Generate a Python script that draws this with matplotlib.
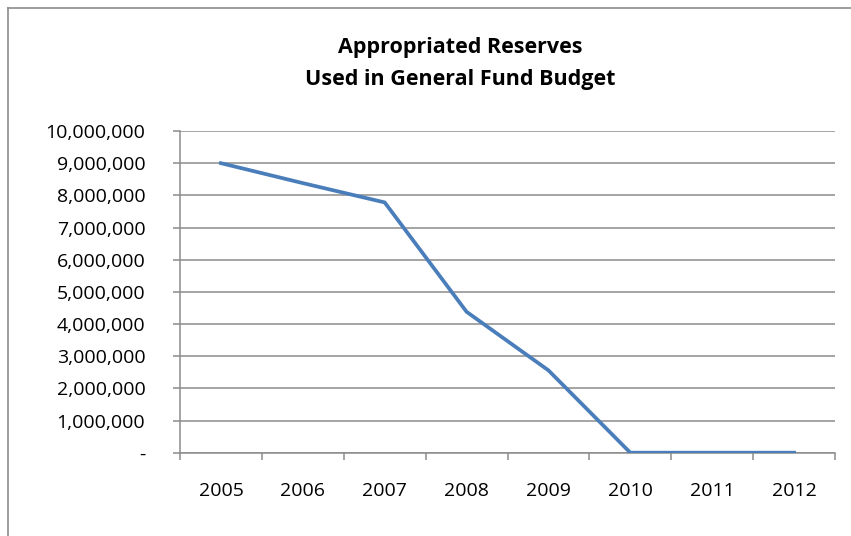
import matplotlib
matplotlib.use("Agg")
import matplotlib.pyplot as plt
from matplotlib.ticker import FuncFormatter, FixedLocator
from matplotlib.lines import Line2D

years = ["2005", "2006", "2007", "2008", "2009", "2010", "2011", "2012"]
reserves = [9000000, 8380000, 7780000, 4380000, 2560000, 0, 0, 0]
title_lines = ["Appropriated Reserves", "Used in General Fund Budget"]

plt.rcParams['font.family'] = ['Open Sans', 'DejaVu Sans']

W, H = 851, 536
fig = plt.figure(figsize=(W / 100, H / 100), dpi=100)
fig.patch.set_facecolor("white")

# outer chart frame (left and top edges visible)
fig.add_artist(Line2D([8 / W, 8 / W], [0, 1 - 8 / H], transform=fig.transFigure,
                      color="#8c8c8c", lw=1.2))
fig.add_artist(Line2D([8 / W, 1], [1 - 8 / H, 1 - 8 / H], transform=fig.transFigure,
                      color="#8c8c8c", lw=1.2))

ax = fig.add_axes([180 / W, 1 - 452.7 / H, (835 - 180) / W, (452.7 - 131) / H])

x = list(range(len(years)))
ax.plot(x, reserves, color="#4A7EBB", lw=2.7, solid_joinstyle="miter", zorder=3)

ax.set_xlim(-0.5, len(years) - 0.5)
ax.set_ylim(0, 10000000)
ax.set_yticks(range(0, 10000001, 1000000))
ax.yaxis.set_major_formatter(FuncFormatter(lambda v, p: "-" if v == 0 else f"{int(v):,}"))
ax.grid(axis="y", color="#8c8c8c", lw=1.1, zorder=1)

ax.set_xticks(x)
ax.set_xticklabels(years)
ax.xaxis.set_minor_locator(FixedLocator([i - 0.5 for i in range(len(years) + 1)]))
ax.tick_params(axis="x", which="major", length=0, pad=21, labelsize=14, labelcolor="#000000")
ax.tick_params(axis="x", which="minor", length=5, width=1.1, color="#8c8c8c", direction="out")
ax.tick_params(axis="y", which="major", length=5, width=1.1, color="#8c8c8c",
               direction="out", pad=20, labelsize=14, labelcolor="#000000")

for s in ["top", "right"]:
    ax.spines[s].set_visible(False)
for s in ["left", "bottom"]:
    ax.spines[s].set_color("#8c8c8c")
    ax.spines[s].set_linewidth(1.1)

fig.text(460 / W, 1 - 48 / H, title_lines[0], ha="center", va="center",
         fontsize=15.5, fontweight="bold", color="#000000")
fig.text(460 / W, 1 - 80 / H, title_lines[1], ha="center", va="center",
         fontsize=15.5, fontweight="bold", color="#000000")

fig.savefig("out.png", dpi=100, facecolor="white")
